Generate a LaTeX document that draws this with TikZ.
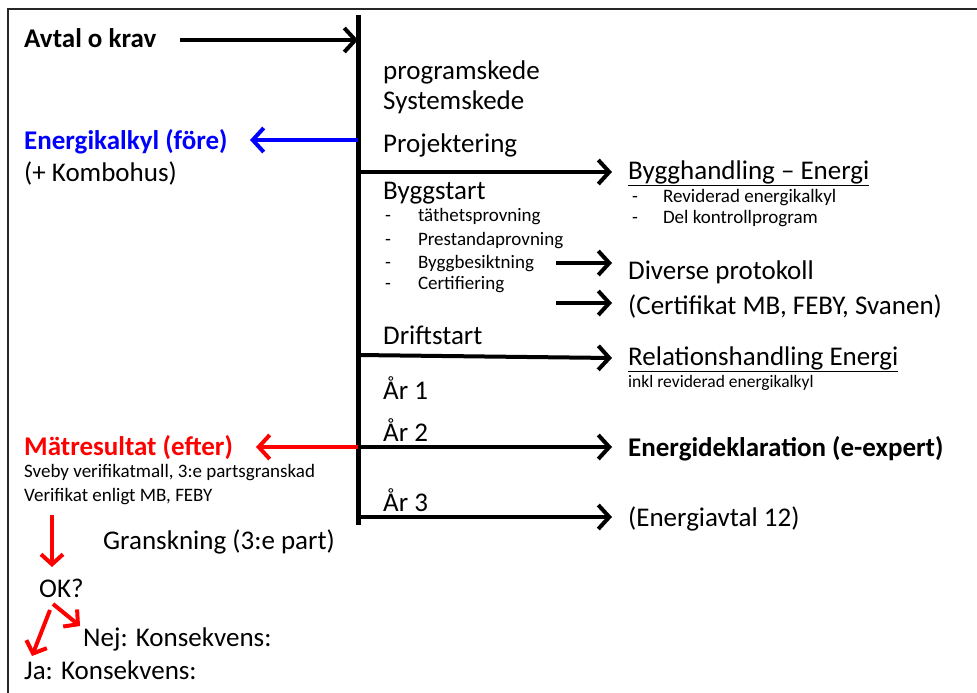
\documentclass[tikz,border=0pt]{standalone}
\usepackage{fontspec}
\setmainfont{Carlito}
\usetikzlibrary{arrows.meta}
\definecolor{KalkylClr}{rgb}{0,0,1}
\definecolor{MatClr}{rgb}{1,0,0}
\tikzset{
  stor/.style={anchor=base west,inner sep=0pt,font=\fontsize{27}{32}\selectfont},
  fet/.style={stor,font=\fontsize{27}{32}\selectfont\bfseries},
  liten/.style={anchor=base west,inner sep=0pt,font=\fontsize{19}{23}\selectfont},
  minst/.style={anchor=base west,inner sep=0pt,font=\fontsize{17.5}{21}\selectfont},
  pil/.style={line width=4pt,-{Straight Barb[length=11pt,width=24pt]}},
  rodpil/.style={line width=4pt,color=MatClr,-{Straight Barb[length=10pt,width=22pt]}}
}

\begin{document}
\begin{tikzpicture}[x=1pt,y=-1pt]
\useasboundingbox (0,0) rectangle (977,693);

\coordinate (hh) at (977,9);
\coordinate (ram) at (8,9);
\coordinate (vv) at (8,693);
\draw[line width=2.5pt,color=black!85] (hh) -- (ram) -- (vv);

\coordinate (tid) at (358,15);
\coordinate (tid') at (358,525);
\draw[line width=5pt] (tid) -- (tid');

\node[fet] (avtal) at (24,48) {Avtal o krav};
\node[fet,text=KalkylClr] (kalkyl) at (24,149) {Energikalkyl (före)};
\node[stor] (kombo) at (24,181) {(+ Kombohus)};
\node[fet,text=MatClr] (matres) at (24,455) {Mätresultat (efter)};
\node[liten] (sveby) at (24,477) {Sveby verifikatmall, 3:e partsgranskad};
\node[liten] (verif) at (24,501) {Verifikat enligt MB, FEBY};
\node[stor] (gransk) at (103,549) {Granskning (3:e part)};
\node[stor] (ok) at (39,597) {OK?};
\node[stor] (nej) at (83,646) {Nej: Konsekvens:};
\node[stor] (ja) at (24,679) {Ja: Konsekvens:};

\node[stor] (program) at (383,79) {programskede};
\node[stor] (system) at (383,109) {Systemskede};
\node[stor] (projekt) at (383,152) {Projektering};
\node[stor] (byggstart) at (383,199) {Byggstart};
\node[liten] (tathet) at (385,221) {-\hspace{27pt}täthetsprovning};
\node[liten] (prestanda) at (385,245) {-\hspace{27pt}Prestandaprovning};
\node[liten] (besikt) at (385,268) {-\hspace{27pt}Byggbesiktning};
\node[liten] (certif) at (385,289) {-\hspace{27pt}Certifiering};
\node[stor] (drift) at (383,344) {Driftstart};
\node[stor] (ar1) at (383,399) {År 1};
\node[stor] (ar2) at (383,441) {År 2};
\node[stor] (ar3) at (383,511) {År 3};

\node[stor] (bygghand) at (628,179) {\underline{Bygghandling – Energi}};
\node[liten] (revid) at (632,202) {-\hspace{25pt}Reviderad energikalkyl};
\node[liten] (kontroll) at (632,223) {-\hspace{25pt}Del kontrollprogram};
\node[stor] (diverse) at (628,279) {Diverse protokoll};
\node[stor] (certifikat) at (628,314) {(Certifikat MB, FEBY, Svanen)};
\node[stor] (relation) at (628,365) {\underline{Relationshandling Energi}};
\node[minst] (inkl) at (628,387) {inkl reviderad energikalkyl};
\node[fet] (deklar) at (628,456) {Energideklaration (e-expert)};
\node[stor] (energiavtal) at (628,526) {(Energiavtal 12)};

\coordinate (a1) at (180,40);
\coordinate (t1) at (358,40);
\coordinate (t2) at (358,140);
\coordinate (k2) at (250,140);
\coordinate (t3) at (358,172);
\coordinate (b3) at (612,172);
\coordinate (s4) at (556,263);
\coordinate (b4) at (612,263);
\coordinate (s5) at (556,303);
\coordinate (b5) at (612,303);
\coordinate (t6) at (358,355);
\coordinate (b6) at (612,358);
\coordinate (t7) at (358,447);
\coordinate (m7) at (256,447);
\coordinate (b7) at (612,447);
\coordinate (t8) at (358,517);
\coordinate (b8) at (612,517);

\draw[pil] (a1) -- (t1);
\draw[pil,color=KalkylClr] (t2) -- (k2);
\draw[pil] (t3) -- (b3);
\draw[pil] (s4) -- (b4);
\draw[pil] (s5) -- (b5);
\draw[pil] (t6) -- (b6);
\draw[pil,color=MatClr] (t7) -- (m7);
\draw[pil] (t7) -- (b7);
\draw[pil] (t8) -- (b8);

\coordinate (r1) at (52,515);
\coordinate (r1') at (52,567);
\coordinate (r2) at (53,604);
\coordinate (r2') at (80,626);
\coordinate (r3) at (50,610);
\coordinate (r3') at (32,656);
\draw[rodpil] (r1) -- (r1');
\draw[rodpil] (r2) -- (r2');
\draw[rodpil] (r3) -- (r3');

\end{tikzpicture}
\end{document}
